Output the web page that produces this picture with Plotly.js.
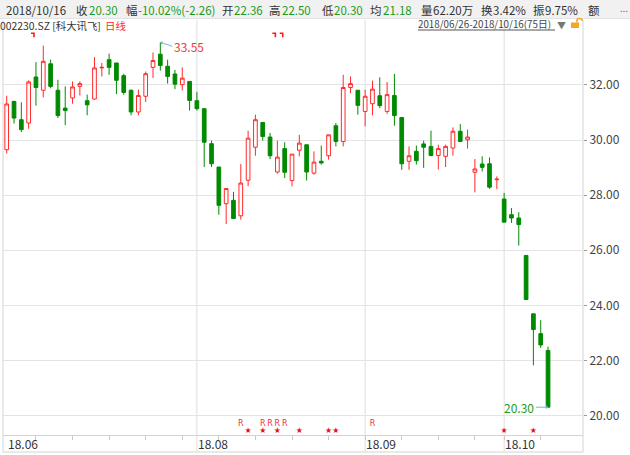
<!DOCTYPE html>
<html>
<head>
<meta charset="utf-8">
<script src="https://cdn.plot.ly/plotly-3.0.1.min.js"></script>
<style>html,body{margin:0;padding:0;background:#fff;}#chart{width:630px;height:455px;}</style>
</head>
<body>
<div id="chart"></div>
<script>
// ---- data ----
const dates = [
 '2018-06-26','2018-06-27','2018-06-28','2018-06-29',
 '2018-07-02','2018-07-03','2018-07-04','2018-07-05','2018-07-06','2018-07-09','2018-07-10','2018-07-11','2018-07-12','2018-07-13',
 '2018-07-16','2018-07-17','2018-07-18','2018-07-19','2018-07-20','2018-07-23','2018-07-24','2018-07-25','2018-07-26','2018-07-27',
 '2018-07-30','2018-07-31',
 '2018-08-01','2018-08-02','2018-08-03','2018-08-06','2018-08-07','2018-08-08','2018-08-09','2018-08-10','2018-08-13','2018-08-14',
 '2018-08-15','2018-08-16','2018-08-17','2018-08-20','2018-08-21','2018-08-22','2018-08-23','2018-08-24','2018-08-27','2018-08-28',
 '2018-08-29','2018-08-30','2018-08-31',
 '2018-09-03','2018-09-04','2018-09-05','2018-09-06','2018-09-07','2018-09-10','2018-09-11','2018-09-12','2018-09-13','2018-09-14',
 '2018-09-17','2018-09-18','2018-09-19','2018-09-20','2018-09-21','2018-09-25','2018-09-26','2018-09-27','2018-09-28',
 '2018-10-08','2018-10-09','2018-10-10','2018-10-11','2018-10-12','2018-10-15','2018-10-16'
];
const openP  = [29.65,31.40,30.74,30.62,32.29,31.81,32.77,31.81,31.16,31.53,31.95,31.43,31.49,32.62,32.92,32.80,32.34,31.81,31.02,31.59,
 32.64,33.12,32.68,32.40,32.01,32.13,31.43,31.14,29.87,29.02,27.69,27.81,27.25,28.54,29.74,30.64,30.11,28.84,29.69,28.53,
 29.63,29.83,28.80,29.23,29.43,30.52,29.95,31.91,31.81,31.04,31.32,31.61,31.04,31.62,30.82,29.23,29.59,29.86,29.77,29.44,
 29.41,29.71,30.32,30.01,28.83,29.13,29.14,28.56,27.86,27.29,27.17,25.81,23.69,22.97,22.36];
const highP  = [31.61,31.43,31.37,32.17,32.83,33.43,32.92,32.19,31.95,32.13,32.13,31.65,33.01,32.80,33.14,32.80,32.41,31.83,31.83,32.49,
 33.18,33.55,32.92,32.55,32.64,32.13,31.75,31.14,29.98,29.02,28.24,28.12,29.13,30.34,30.92,30.64,30.26,29.98,29.92,29.49,
 30.19,29.83,29.59,29.80,30.19,30.62,32.37,32.31,31.81,31.83,32.16,32.28,32.11,32.40,30.82,29.77,29.80,29.98,30.34,29.83,
 29.83,30.46,30.58,30.38,29.31,29.41,29.37,28.68,28.08,27.53,27.38,25.81,23.69,23.46,22.50];
const lowP   = [29.51,30.60,30.29,30.41,31.25,31.55,31.88,30.80,30.54,31.32,31.62,30.90,31.47,32.31,32.37,31.67,31.65,30.90,30.90,31.38,
 32.25,32.52,32.05,31.85,31.80,31.07,31.07,29.02,29.02,27.29,26.95,27.15,27.11,28.32,29.43,29.98,29.31,28.78,28.62,28.32,
 29.41,28.53,28.74,29.11,29.29,29.77,29.77,31.71,30.92,30.50,30.90,31.16,30.95,30.52,28.92,28.92,29.11,28.99,29.41,28.93,
 29.02,29.43,29.93,29.69,28.10,28.86,28.23,28.22,27.02,26.99,26.17,24.21,21.82,22.45,20.30];
const closeP = [31.31,30.80,30.38,32.11,31.91,32.86,31.95,30.89,31.07,31.93,32.05,31.28,32.62,32.64,32.64,32.17,31.73,31.02,31.62,32.41,
 32.89,32.71,32.31,32.03,32.25,31.44,31.14,29.92,29.14,27.63,28.24,27.15,28.44,30.07,30.74,30.13,29.43,29.38,28.83,29.49,
 29.89,28.84,29.20,29.17,30.19,29.95,31.91,32.05,31.26,31.59,31.85,31.25,31.65,30.89,29.14,29.43,29.25,29.74,29.44,29.69,
 29.77,30.32,29.95,30.11,28.95,29.01,28.29,28.58,27.02,27.17,26.93,24.21,23.12,22.56,20.30];

const monthLineIdx  = [26, 49, 68];
const monthLabelIdx = [0, 26, 49, 68];
const monthLabels   = ['18.06', '18.08', '18.09', '18.10'];
const weekTickIdx   = [4, 9, 14, 19, 24, 29, 34, 39, 44, 49, 54, 59, 64, 68, 73];
const yTicks        = [20, 22, 24, 26, 28, 30, 32];
const rMarkIdx      = [32, 35, 36, 37, 38, 50];
const starMarkIdx   = [33, 35, 37, 40, 44, 45, 68, 72];
const topMarkIdx    = [4, 37, 38];

const hdrDate = '2018/10/16';
const hdrClose = '20.30', hdrPct = '-10.02%(-2.26)', hdrOpen = '22.36', hdrHigh = '22.50',
      hdrLow = '20.30', hdrAvg = '21.18', hdrVol = '62.20万', hdrTurn = '3.42%', hdrAmp = '9.75%';
const stockName = '002230.SZ [科大讯飞]';
const periodName = '日线';
const rangeText = '2018/06/26-2018/10/16(75日)';

// ---- helpers ----
const W = 630, H = 455, ML = 3, MR = 47, MT = 20, MB = 20;
const PW = W - ML - MR, PH = H - MT - MB;
const px = x => (x - ML) / PW;
const py = y => (H - MB - y) / PH;
const idx = dates.map((d, i) => i);

const FONT = 'Noto Sans CJK SC, Noto Sans, sans-serif';
const RED = '#ff2a2a', GREEN = '#008a00', TXTGREEN = '#1c9a1c', DARK = '#333333';

const traces = [
  {
    type: 'candlestick', x: idx, open: openP, high: highP, low: lowP, close: closeP,
    text: dates, hoverinfo: 'text',
    increasing: {line: {color: RED, width: 1}, fillcolor: '#ffffff'},
    decreasing: {line: {color: GREEN, width: 1}, fillcolor: GREEN},
    whiskerwidth: 0
  },
  {
    type: 'scatter', mode: 'text', x: rMarkIdx, y: rMarkIdx.map(() => 19.70),
    text: rMarkIdx.map(() => 'R'), textfont: {family: 'DejaVu Sans', size: 8, color: '#e8323c'},
    hoverinfo: 'skip', cliponaxis: false
  },
  {
    type: 'scatter', mode: 'text', x: starMarkIdx, y: starMarkIdx.map(() => 19.42),
    text: starMarkIdx.map(() => '★'), textfont: {family: 'DejaVu Sans', size: 8, color: '#e8101c'},
    hoverinfo: 'skip', cliponaxis: false
  }
];

const shapes = [];
// header background
shapes.push({type: 'rect', xref: 'paper', yref: 'paper', x0: px(0), x1: px(W), y0: py(18), y1: py(0),
  fillcolor: '#f1f1f1', line: {width: 0}, layer: 'below'});
shapes.push({type: 'line', xref: 'paper', yref: 'paper', x0: px(0), x1: px(W), y0: py(18.5), y1: py(18.5),
  line: {color: '#e2e2e2', width: 1}});
// month lines
monthLineIdx.forEach(i => shapes.push({type: 'line', xref: 'x', yref: 'paper', x0: i, x1: i, y0: py(452), y1: 1,
  line: {color: '#dedede', width: 1}, layer: 'below'}));
// frame lines
shapes.push({type: 'line', xref: 'paper', yref: 'paper', x0: 0, x1: 0, y0: py(452), y1: 1, line: {color: '#d4d4d4', width: 1}});
shapes.push({type: 'line', xref: 'paper', yref: 'paper', x0: 1, x1: 1, y0: py(452), y1: 1, line: {color: '#d4d4d4', width: 1}});
shapes.push({type: 'line', xref: 'paper', yref: 'paper', x0: 0, x1: 1, y0: py(452), y1: py(452), line: {color: '#d4d4d4', width: 1}});
// top event marks (small red corner glyphs)
topMarkIdx.forEach(i => shapes.push({type: 'path', xref: 'x', yref: 'y',
  path: `M ${i - 0.68} 33.88 L ${i - 0.27} 33.88 L ${i - 0.27} 33.73`,
  line: {color: '#ff1a1a', width: 1.6}}));
// underline of range text
shapes.push({type: 'line', xref: 'paper', yref: 'paper', x0: px(418), x1: px(555), y0: py(30), y1: py(30), line: {color: '#555', width: 1}});
// lock icon
shapes.push({type: 'rect', xref: 'paper', yref: 'paper', x0: px(571), x1: px(579), y0: py(28), y1: py(22.5),
  fillcolor: '#f5a623', line: {width: 0}});
shapes.push({type: 'path', xref: 'paper', yref: 'paper',
  path: `M ${px(577)} ${py(22.5)} L ${px(577)} ${py(20)} Q ${px(577)} ${py(18.5)} ${px(579.5)} ${py(18.5)} Q ${px(582)} ${py(18.5)} ${px(582)} ${py(20)} L ${px(582)} ${py(21)}`,
  line: {color: '#f5a623', width: 1.5}});

const annotations = [];
function hdr(text, x, y, color, size) {
  annotations.push({text: text, xref: 'paper', yref: 'paper', x: px(x), y: py(y), xanchor: 'left', yanchor: 'middle',
    showarrow: false, borderpad: 0, font: {family: FONT, size: size || 12, color: color}});
}
const HS = 11.5;
hdr(hdrDate, 5, 10, DARK, HS);
hdr('收', 75, 10, DARK, HS); hdr(hdrClose, 88, 10, TXTGREEN, HS);
hdr('幅', 125, 10, DARK, HS); hdr(hdrPct, 137, 10, TXTGREEN, HS);
hdr('开', 221, 10, DARK, HS); hdr(hdrOpen, 233, 10, TXTGREEN, HS);
hdr('高', 268, 10, DARK, HS); hdr(hdrHigh, 281, 10, TXTGREEN, HS);
hdr('低', 321, 10, DARK, HS); hdr(hdrLow, 333, 10, TXTGREEN, HS);
hdr('均', 369, 10, DARK, HS); hdr(hdrAvg, 382, 10, TXTGREEN, HS);
hdr('量', 420, 10, DARK, HS); hdr(hdrVol, 432, 10, DARK, HS);
hdr('换', 480, 10, DARK, HS); hdr(hdrTurn, 492, 10, DARK, HS);
hdr('振', 532, 10, DARK, HS); hdr(hdrAmp, 544, 10, DARK, HS);
hdr('额', 587, 10, DARK, HS);
hdr('...', 619, 8, RED, 10);
hdr(stockName, -1, 25, DARK, 10.4);
hdr(periodName, 104, 25, RED, 10.4);
hdr(rangeText, 417, 24, '#444', 9.8);
hdr('▼', 556, 25, '#777', 9);

// month labels
monthLabelIdx.forEach((i, k) => annotations.push({text: monthLabels[k], xref: 'x', yref: 'paper', x: i, y: py(443.5),
  xanchor: 'left', yanchor: 'middle', borderpad: 0, showarrow: false, font: {family: FONT, size: 12, color: DARK}}));

// max high annotation
let maxI = 0;
highP.forEach((v, i) => { if (v > highP[maxI]) maxI = i; });
annotations.push({text: highP[maxI].toFixed(2), x: maxI, y: highP[maxI], xref: 'x', yref: 'y',
  showarrow: true, arrowhead: 1, arrowsize: 0.7, arrowwidth: 1, arrowcolor: '#6ab8d8', ax: 12, ay: 4,
  xanchor: 'left', yanchor: 'middle', font: {family: FONT, size: 12, color: '#e84040'}});
// last close annotation
const last = closeP.length - 1;
annotations.push({text: closeP[last].toFixed(2), x: last, y: closeP[last], xref: 'x', yref: 'y',
  showarrow: true, arrowhead: 1, arrowsize: 0.7, arrowwidth: 1, arrowcolor: '#6ab8d8', ax: -12, ay: 0,
  xanchor: 'right', yanchor: 'middle', font: {family: FONT, size: 12, color: TXTGREEN}});

const layout = {
  width: W, height: H,
  margin: {l: ML, r: MR, t: MT, b: MB, pad: 0},
  paper_bgcolor: '#ffffff', plot_bgcolor: '#ffffff',
  showlegend: false,
  boxgap: 0.28,
  font: {family: FONT},
  xaxis: {
    type: 'linear', range: [-0.506, 78.78], tickvals: weekTickIdx, ticks: 'outside', ticklen: 4,
    tickcolor: '#c8c8c8', showticklabels: false, showgrid: false, zeroline: false,
    showline: true, linecolor: '#d4d4d4', rangeslider: {visible: false}, fixedrange: true
  },
  yaxis: {
    side: 'right', range: [19.29, 34.36], tickvals: yTicks, tickformat: '.2f', ticks: 'outside', ticklen: 3,
    tickcolor: '#999999', gridcolor: '#e4e4e4', gridwidth: 1, showline: false, zeroline: false,
    tickfont: {family: FONT, size: 12, color: '#444'}, fixedrange: true
  },
  shapes: shapes,
  annotations: annotations
};

Plotly.newPlot('chart', traces, layout, {displayModeBar: false, staticPlot: true});
</script>
</body>
</html>
